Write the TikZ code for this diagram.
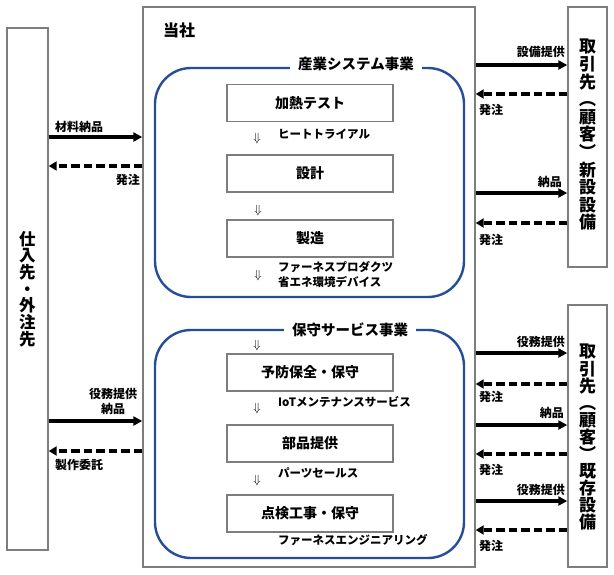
\documentclass[tikz,border=0pt]{standalone}
\usepackage{fontspec}
\setmainfont{Noto Sans CJK JP}
\usetikzlibrary{arrows.meta}
\definecolor{frame}{RGB}{125,125,125}
\definecolor{bline}{RGB}{38,78,150}
\begin{document}
\begin{tikzpicture}[x=1pt,y=-1pt,
  outerbox/.style={draw=frame, line width=1.4pt, inner sep=0pt},
  stepbox/.style={draw=frame, line width=1.8pt, minimum width=166pt, minimum height=37pt, inner sep=0pt, font=\fontsize{14}{15}\selectfont\bfseries},
  bframe/.style={draw=bline, line width=2.4pt, rounded corners=36pt, inner sep=0pt},
  ftitle/.style={fill=white, inner xsep=8pt, inner ysep=2pt, font=\fontsize{14.5}{15}\selectfont\bfseries},
  vtext/.style={align=center, inner sep=0pt},
  lab/.style={inner sep=0pt, font=\fontsize{12}{15}\selectfont\bfseries},
  sub/.style={inner sep=0pt, anchor=west, font=\fontsize{11.5}{15}\selectfont\bfseries},
  darr/.style={inner sep=0pt, text=black, font=\fontsize{13}{13}\selectfont},
  sarr/.style={line width=3.2pt, -{Triangle[length=9pt,width=9pt]}},
  dsh/.style={line width=3.5pt, dash pattern=on 8.5pt off 4pt, -{Triangle[length=8pt,width=9pt]}}
]
\useasboundingbox (0,0) rectangle (614,574);
\fill[white] (0,0) rectangle (614,574);

% outer boxes
\node[outerbox, minimum width=41pt, minimum height=522pt] (sup) at (27.5,289) {};
\node[outerbox, minimum width=332pt, minimum height=560pt] (co) at (309,287) {};
\node[outerbox, minimum width=39pt, minimum height=260pt] (c1) at (587.5,137) {};
\node[outerbox, minimum width=39pt, minimum height=262pt] (c2) at (587.5,436) {};

\node[vtext, font=\fontsize{16.5}{16.7}\selectfont\bfseries] (suptx) at (sup) {仕\\入\\先\\・\\外\\注\\先};
\node[vtext, font=\fontsize{17}{17.6}\selectfont\bfseries] (c1tx) at (587.5,135) {取\\引\\先\\︵\\顧\\客\\︶\\新\\設\\設\\備};
\node[vtext, font=\fontsize{17}{17.1}\selectfont\bfseries] (c2tx) at (587.5,437.5) {取\\引\\先\\︵\\顧\\客\\︶\\既\\存\\設\\備};

\node[anchor=west, inner sep=0pt, font=\fontsize{16}{16}\selectfont\bfseries] (cotx) at (163,30) {当社};

% blue frames
\node[bframe, minimum width=309pt, minimum height=229pt] (f1) at (309.5,182.5) {};
\node[bframe, minimum width=309pt, minimum height=228pt] (f2) at (309.5,444) {};
\node[ftitle] (t1) at (356,64) {産業システム事業};
\node[ftitle] (t2) at (350,330) {保守サービス事業};

% step boxes
\node[stepbox] (s1) at (310,103) {加熱テスト};
\node[stepbox] (s2) at (310,173.5) {設計};
\node[stepbox] (s3) at (310,238.5) {製造};
\node[stepbox] (s4) at (310,372.5) {予防保全・保守};
\node[stepbox] (s5) at (310,443.5) {部品提供};
\node[stepbox] (s6) at (310,513.5) {点検工事・保守};

% down arrows and sublabels
\node[darr] (d1) at (257,138) {$\Downarrow$};
\node[darr] (d2) at (258,210) {$\Downarrow$};
\node[darr] (d3) at (258,275) {$\Downarrow$};
\node[darr] (d4) at (257,345) {$\Downarrow$};
\node[darr] (d5) at (257,408) {$\Downarrow$};
\node[darr] (d6) at (257,480) {$\Downarrow$};
\node[sub] (l1) at (278,134) {ヒートトライアル};
\node[sub, align=left] (l2) at (278,274.5) {ファーネスプロダクツ\\省エネ環境デバイス};
\node[sub] (l3) at (278,402) {IoTメンテナンスサービス};
\node[sub] (l4) at (278,473) {パーツセールス};
\node[sub] (l5) at (278,540) {ファーネスエンジニアリング};

% left arrows
\draw[sarr] (sup.east |- 0,137) -- (co.west |- 0,137);
\draw[dsh] (co.west |- 0,166) -- (sup.east |- 0,166);
\draw[sarr] (sup.east |- 0,421) -- (co.west |- 0,421);
\draw[dsh] (co.west |- 0,451) -- (sup.east |- 0,451);
\node[lab, anchor=west] (a1) at (55,127) {材料納品};
\node[lab, anchor=east] (a2) at (140,180) {発注};
\node[lab, align=center] (a3) at (113,401) {役務提供\\納品};
\node[lab, anchor=west] (a4) at (55,465) {製作委託};

% right upper arrows
\draw[sarr] (co.east |- 0,65) -- (c1.west |- 0,65);
\draw[dsh] (c1.west |- 0,94) -- (co.east |- 0,94);
\draw[sarr] (co.east |- 0,193) -- (c1.west |- 0,193);
\draw[dsh] (c1.west |- 0,223) -- (co.east |- 0,223);
\node[lab, anchor=east] (b1) at (565,52) {設備提供};
\node[lab, anchor=west] (b2) at (479,110) {発注};
\node[lab, anchor=east] (b3) at (562,182) {納品};
\node[lab, anchor=west] (b4) at (479,240) {発注};

% right lower arrows
\draw[sarr] (co.east |- 0,353) -- (c2.west |- 0,353);
\draw[dsh] (c2.west |- 0,384) -- (co.east |- 0,384);
\draw[sarr] (co.east |- 0,425) -- (c2.west |- 0,425);
\draw[dsh] (c2.west |- 0,454) -- (co.east |- 0,454);
\draw[sarr] (co.east |- 0,501) -- (c2.west |- 0,501);
\draw[dsh] (c2.west |- 0,530) -- (co.east |- 0,530);
\node[lab, anchor=east] (e1) at (565,342) {役務提供};
\node[lab, anchor=west] (e2) at (479,397) {発注};
\node[lab, anchor=east] (e3) at (564,413) {納品};
\node[lab, anchor=west] (e4) at (479,470) {発注};
\node[lab, anchor=east] (e5) at (565,490) {役務提供};
\node[lab, anchor=west] (e6) at (479,546) {発注};
\end{tikzpicture}
\end{document}
